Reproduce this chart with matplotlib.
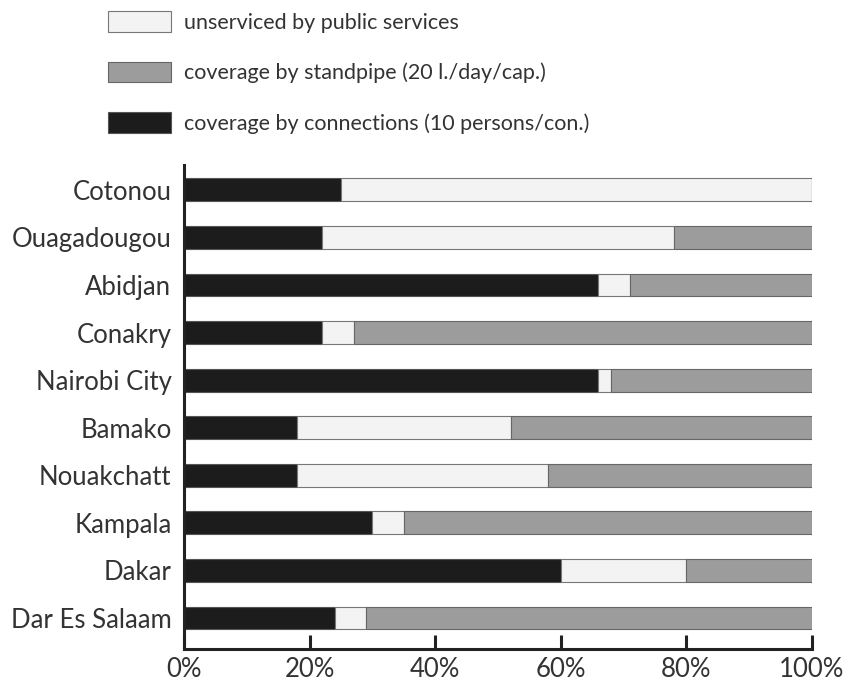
import numpy as np
import matplotlib.pyplot as plt

plt.rcParams['font.family'] = ['Lato', 'DejaVu Sans']

# Du lieu doc tu hinh (%)
cities = ['Cotonou', 'Ouagadougou', 'Abidjan', 'Conakry', 'Nairobi City',
          'Bamako', 'Nouakchatt', 'Kampala', 'Dakar', 'Dar Es Salaam']
connections = [25, 22, 66, 22, 66, 18, 18, 30, 60, 24]
unserviced = [75, 56, 5, 5, 2, 34, 40, 5, 20, 5]
standpipe = [0, 22, 29, 73, 32, 48, 42, 65, 20, 71]

lbl_unserv = 'unserviced by public services'
lbl_stand = 'coverage by standpipe (20 l./day/cap.)'
lbl_conn = 'coverage by connections (10 persons/con.)'

text_col = '#333333'

fig = plt.figure(figsize=(8.44, 6.86), dpi=100)
ax = fig.add_axes([184 / 844, 37 / 686, 628 / 844, 484 / 686])

y = np.arange(len(cities))[::-1]
conn = np.array(connections)
unsv = np.array(unserviced)
stand = np.array(standpipe)

h = 0.48
b1 = ax.barh(y, conn, height=h, color='#1c1c1c', edgecolor='#555555', linewidth=0.8)
b2 = ax.barh(y, unsv, left=conn, height=h, color='#f3f3f3', edgecolor='#777777', linewidth=0.8)
b3 = ax.barh(y, stand, left=conn + unsv, height=h, color='#9c9c9c', edgecolor='#666666', linewidth=0.8)

ax.set_xlim(0, 100)
ax.set_ylim(-0.65, 9.52)
ax.set_yticks(y)
ax.set_yticklabels(cities, fontsize=18.5, color=text_col)
ax.set_xticks([0, 20, 40, 60, 80, 100])
ax.set_xticklabels(['0%', '20%', '40%', '60%', '80%', '100%'], fontsize=18.5, color=text_col)
ax.tick_params(axis='y', length=0, pad=9)
ax.tick_params(axis='x', direction='in', length=10, width=2.2, color='#222222', pad=6)

for s in ['top', 'right']:
    ax.spines[s].set_visible(False)
ax.spines['left'].set_linewidth(2.2)
ax.spines['bottom'].set_linewidth(2.2)
ax.spines['left'].set_color('#222222')
ax.spines['bottom'].set_color('#222222')

leg = fig.legend([b2, b3, b1], [lbl_unserv, lbl_stand, lbl_conn],
                 loc='upper left', bbox_to_anchor=(89 / 844, 1 + 8 / 686),
                 frameon=False, fontsize=15.5, handlelength=2.9, handleheight=1.07,
                 labelspacing=1.35, handletextpad=0.6)
for t in leg.get_texts():
    t.set_color(text_col)

plt.savefig('out.png', dpi=100)
